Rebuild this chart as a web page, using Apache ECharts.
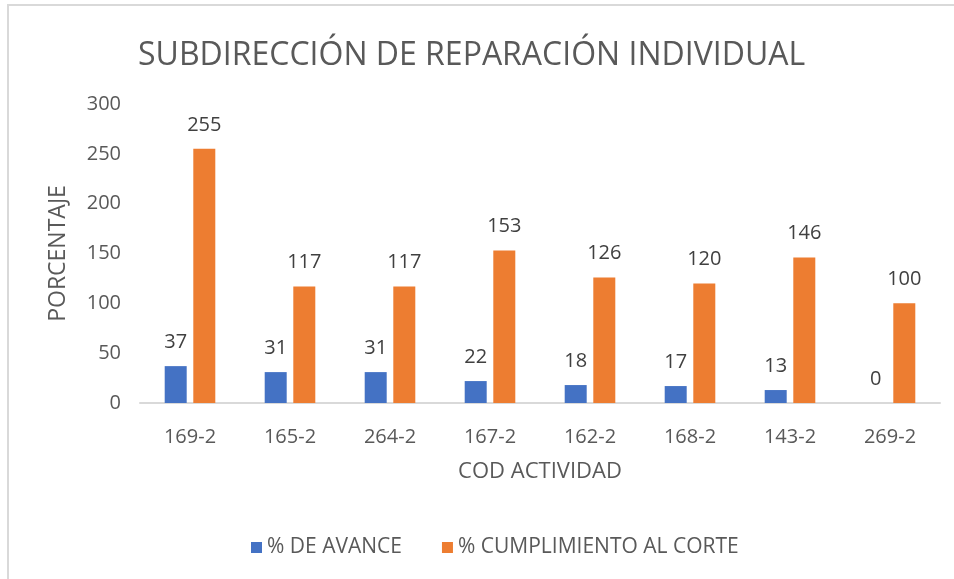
<!DOCTYPE html>
<html>
<head>
<meta charset="utf-8">
<script src="https://cdn.jsdelivr.net/npm/echarts@6/dist/echarts.min.js"></script>
<style>
html,body{margin:0;padding:0;background:#fff;}
#main{width:954px;height:579px;}
</style>
</head>
<body>
<div id="main"></div>
<script>
var categories = ['169-2','165-2','264-2','167-2','162-2','168-2','143-2','269-2'];
var avance = [37, 31, 31, 22, 18, 17, 13, 0];
var cumplimiento = [255, 117, 117, 153, 126, 120, 146, 100];
var yTicks = [0, 50, 100, 150, 200, 250, 300];

var FONT = '"Open Sans", "Liberation Sans", sans-serif';
var chart = echarts.init(document.getElementById('main'), null, {renderer:'canvas'});
chart.setOption({
  animation: false,
  backgroundColor: '#ffffff',
  graphic: [
    {type:'rect', shape:{x:7, y:4, width:947, height:2}, style:{fill:'#d9d9d9'}},
    {type:'rect', shape:{x:7, y:4, width:2, height:575}, style:{fill:'#d9d9d9'}}
  ],
  title: {
    text: 'SUBDIRECCIÓN DE REPARACIÓN INDIVIDUAL',
    left: 133, top: 35,
    textStyle: {fontFamily: FONT, fontSize: 32, fontWeight: 'normal', color: '#595959'}
  },
  legend: {
    top: 532, left: 246,
    itemWidth: 11, itemHeight: 11, itemGap: 40,
    icon: 'rect',
    textStyle: {fontFamily: FONT, fontSize: 21, color: '#595959'},
    data: ['% DE AVANCE', '% CUMPLIMIENTO AL CORTE']
  },
  grid: {left: 140, right: 14, top: 104, bottom: 176},
  xAxis: {
    type: 'category',
    data: categories,
    name: 'COD ACTIVIDAD',
    nameLocation: 'middle',
    nameGap: 58,
    nameTextStyle: {fontFamily: FONT, fontSize: 22, color: '#595959'},
    axisLine: {lineStyle: {color: '#d9d9d9', width: 2}},
    axisTick: {show: false},
    axisLabel: {fontFamily: FONT, fontSize: 20, color: '#595959', margin: 24}
  },
  yAxis: {
    type: 'value',
    min: yTicks[0], max: yTicks[yTicks.length-1], interval: 50,
    name: 'PORCENTAJE',
    nameLocation: 'middle',
    nameGap: 70,
    nameRotate: 90,
    nameTextStyle: {fontFamily: FONT, fontSize: 23, color: '#595959'},
    axisLine: {show: false},
    axisTick: {show: false},
    splitLine: {show: false},
    axisLabel: {fontFamily: FONT, fontSize: 20, color: '#595959', margin: 19}
  },
  series: [
    {
      name: '% DE AVANCE', type: 'bar', data: avance,
      barWidth: 22, barGap: '30%',
      itemStyle: {color: '#4472c4'},
      label: {show: true, position: 'top', distance: 14, fontFamily: FONT, fontSize: 20, color: '#404040'}
    },
    {
      name: '% CUMPLIMIENTO AL CORTE', type: 'bar', data: cumplimiento,
      barWidth: 22,
      itemStyle: {color: '#ed7d31'},
      label: {show: true, position: 'top', distance: 14, fontFamily: FONT, fontSize: 20, color: '#404040'}
    }
  ]
});
</script>
</body>
</html>
